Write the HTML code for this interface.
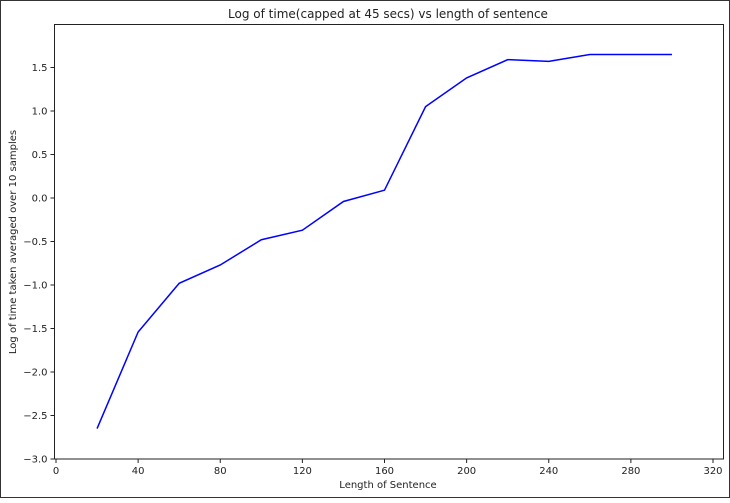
<!DOCTYPE html>
<html><head><meta charset="utf-8"><style>
body{margin:0;background:#fff;font-family:"Liberation Sans","DejaVu Sans",sans-serif;}
svg text{font-family:"DejaVu Sans","Liberation Sans",sans-serif;fill:#222;}
</style></head><body>
<svg id="chart" width="730" height="498">
<rect x="0.5" y="0.5" width="729" height="497" fill="#fff" stroke="#333"/>
<text x="388" y="18" font-size="12" text-anchor="middle">Log of time(capped at 45 secs) vs length of sentence</text>
<text x="388" y="488" font-size="10" text-anchor="middle">Length of Sentence</text>
<text transform="translate(16,242) rotate(-90)" font-size="10" text-anchor="middle">Log of time taken averaged over 10 samples</text>
<g id="axes"></g>
</svg>
<script>
const lengths=[20,40,60,80,100,120,140,160,180,200,220,240,260,280,300];
const logTimes=[-2.65,-1.54,-0.98,-0.77,-0.48,-0.37,-0.04,0.09,1.05,1.38,1.59,1.57,1.65,1.65,1.65];
const xTicks=[0,40,80,120,160,200,240,280,320];
const yTicks=[-3.0,-2.5,-2.0,-1.5,-1.0,-0.5,0.0,0.5,1.0,1.5];
const L=54.5,R=723.5,T=24.5,B=459;
function xs(v){return 56+v*(713-56)/320;}
function ys(v){return 459-(v+3)*87;}
const NS="http://www.w3.org/2000/svg";
const g=document.getElementById('axes');
function mk(t,a){const e=document.createElementNS(NS,t);for(const k in a)e.setAttribute(k,a[k]);g.appendChild(e);return e;}
const fmt=v=>(v<0?"\u2212":"")+Math.abs(v).toFixed(1);
xTicks.forEach(v=>{
 const x=xs(v);
 const t=mk('line',{x1:x,x2:x,y1:B,y2:B+4,stroke:'#222'});
 
 
 const l=mk('text',{x:x,y:B+15,'font-size':10,'text-anchor':'middle'});l.textContent=v;
 
 
});
yTicks.forEach(v=>{
 const y=ys(v);
 const t=mk('line',{x1:L-4,x2:L,y1:y,y2:y,stroke:'#222'});
 
 
 const l=mk('text',{x:L-7,y:y+3.5,'font-size':10,'text-anchor':'end'});l.textContent=fmt(v);
 
 
});
const frame=mk('rect',{x:L,y:T,width:R-L,height:B-T,fill:'none',stroke:'#222','stroke-width':1});


const pts=lengths.map((v,i)=>xs(v)+','+ys(logTimes[i])).join(' ');
const line=mk('polyline',{points:pts,fill:'none',stroke:'#0000ff','stroke-width':1.5});


</script>
</body></html>
